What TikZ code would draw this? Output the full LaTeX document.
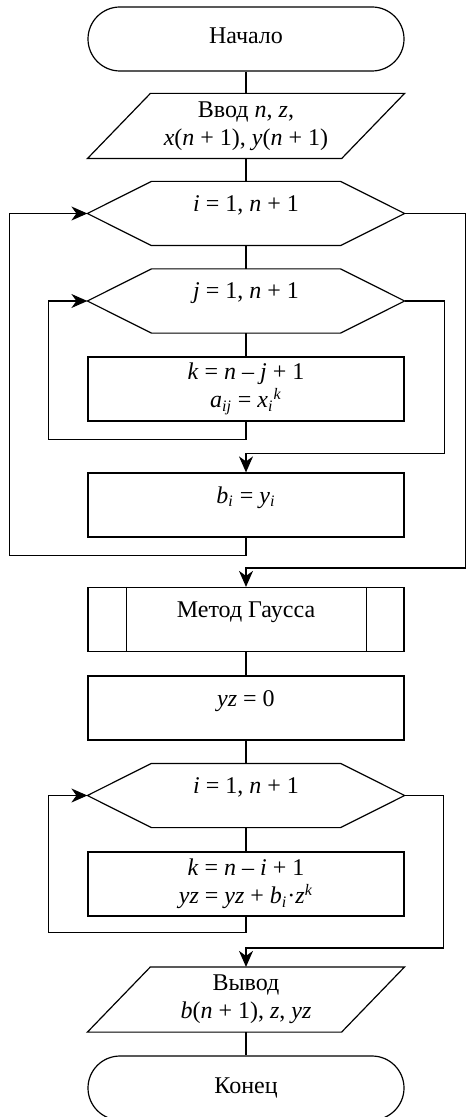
\documentclass[tikz,border=0pt]{standalone}
\usepackage{fontspec}
\setmainfont{Liberation Serif}
\usetikzlibrary{arrows.meta, calc}
\newcommand{\iv}[1]{\textit{#1}}

\tikzset{
    blockbase/.style={minimum width=158pt, minimum height=32pt, inner sep=2pt, align=center, font=\fontsize{12}{14}\selectfont},
    termbox/.style={blockbase, draw, rounded corners=16pt, text height=8pt, text depth=3pt},
    procbox/.style={blockbase, draw},
    loopbox/.style={blockbase, minimum height=31.5pt},
    iobox/.style={blockbase},
    onerow/.style={text height=8pt, text depth=10pt},
    arr/.style={-{Stealth[length=8pt, width=7pt, inset=2.5pt]}}
}

\begin{document}
\begin{tikzpicture}[x=0.5pt, y=-0.5pt, line width=0.6pt]
    \useasboundingbox (0,0) rectangle (465,1117);

    % Start and input
    \node[termbox] (start) at (246,39) {Начало};
    \node[iobox] (inp) at (246,126) {Ввод \iv{n}, \iv{z},\\ \iv{x}(\iv{n} + 1), \iv{y}(\iv{n} + 1)};

    % Loops over i and j
    \node[loopbox, onerow] (hexi) at (246,213.5) {\iv{i} = 1, \iv{n} + 1};
    \node[loopbox, onerow] (hexj) at (246,301) {\iv{j} = 1, \iv{n} + 1};
    \node[procbox] (fill) at (246,389) {\iv{k} = \iv{n} – \iv{j} + 1\\ \iv{a}\textsubscript{\iv{ij}} = \iv{x}\textsubscript{\iv{i}}\textsuperscript{\iv{k}}};
    \node[procbox, onerow] (rhs) at (246,505) {\iv{b}\textsubscript{\iv{i}} = \iv{y}\textsubscript{\iv{i}}};

    % Solve
    \node[procbox, onerow] (gauss) at (246,619.5) {Метод Гаусса};
    \node[procbox, onerow] (init) at (246,708) {\iv{yz} = 0};

    % Polynomial value
    \node[loopbox, onerow] (hexs) at (246,795.5) {\iv{i} = 1, \iv{n} + 1};
    \node[procbox] (sum) at (246,884) {\iv{k} = \iv{n} – \iv{i} + 1\\ \iv{yz} = \iv{yz} + \iv{b}\textsubscript{\iv{i}}·\iv{z}\textsuperscript{\iv{k}}};

    % Output and end
    \node[iobox] (out) at (246,999.5) {Вывод\\ \iv{b}(\iv{n} + 1), \iv{z}, \iv{yz}};
    \node[termbox] (stop) at (246,1088) {Конец};

    % Outlines
    \foreach \h in {hexi, hexj, hexs}
        \draw (\h.west) -- ([xshift=32pt]\h.north west) -- ([xshift=-32pt]\h.north east) -- (\h.east)
            -- ([xshift=-32pt]\h.south east) -- ([xshift=32pt]\h.south west) -- cycle;
    \foreach \p in {inp, out}
        \draw ([xshift=31.5pt]\p.north west) -- (\p.north east) -- ([xshift=-31.5pt]\p.south east) -- (\p.south west) -- cycle;
    \draw ([xshift=19.5pt]gauss.north west) -- ([xshift=19.5pt]gauss.south west);
    \draw ([xshift=-19pt]gauss.north east) -- ([xshift=-19pt]gauss.south east);

    % Straight links
    \draw (start) -- (inp);
    \draw (inp) -- (hexi);
    \draw (hexi) -- (hexj);
    \draw (hexj) -- (fill);
    \draw (gauss) -- (init);
    \draw (init) -- (hexs);
    \draw (hexs) -- (sum);
    \draw (out) -- (stop);

    % Loop returns
    \draw[arr] (fill.south) -- ++(0,18) -| ([xshift=-19.5pt]hexj.west) -- (hexj.west);
    \draw[arr] (rhs.south) -- ++(0,18) -| ([xshift=-39pt]hexi.west) -- (hexi.west);
    \draw[arr] (sum.south) -- ++(0,16) -| ([xshift=-19.5pt]hexs.west) -- (hexs.west);

    % Loop exits
    \draw[arr] (hexj.east) -- ++(40,0) |- ([yshift=9.5pt]rhs.north) -- (rhs.north);
    \draw[arr] (hexi.east) -- ++(61,0) |- ([yshift=9.5pt]gauss.north) -- (gauss.north);
    \draw[arr] (hexs.east) -- ++(39,0) |- ([yshift=9.5pt]out.north) -- (out.north);
\end{tikzpicture}
\end{document}
